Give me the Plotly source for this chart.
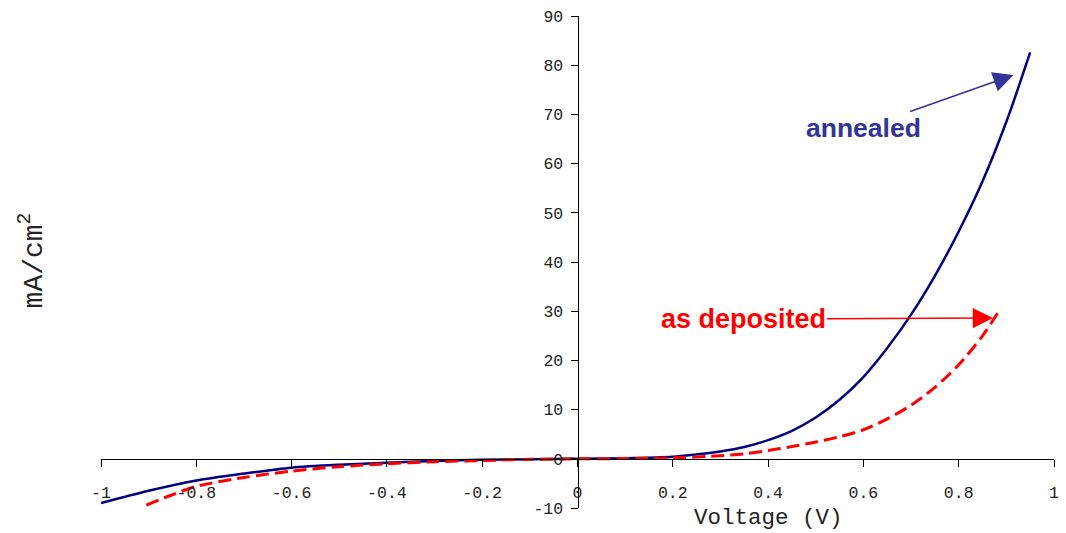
import plotly.graph_objects as go

# Annealed curve (solid navy)
annealed_v = [-1.0, -0.9, -0.8, -0.7, -0.6, -0.5, -0.4, -0.3, -0.2, -0.1, 0.0, 0.1, 0.2, 0.25,
              0.3, 0.35, 0.4, 0.45, 0.5, 0.55, 0.6, 0.65, 0.7, 0.75, 0.8, 0.85, 0.9, 0.95]
annealed_j = [-9.0, -6.5, -4.4, -3.0, -1.8, -1.2, -0.8, -0.45, -0.2, -0.1, 0.0, 0.1, 0.4, 0.9,
              1.5, 2.4, 3.8, 5.7, 8.4, 12.0, 16.6, 22.5, 29.3, 37.2, 46.2, 56.4, 68.5, 82.6]

# As-deposited curve (dashed red)
deposited_v = [-0.905, -0.85, -0.8, -0.7, -0.6, -0.5, -0.4, -0.3, -0.2, -0.1, 0.0, 0.1, 0.2,
               0.28, 0.35, 0.4, 0.45, 0.5, 0.55, 0.6, 0.65, 0.7, 0.75, 0.8, 0.85, 0.887]
deposited_j = [-9.4, -7.3, -5.6, -3.8, -2.5, -1.6, -1.0, -0.6, -0.35, -0.1, 0.0, 0.05, 0.2,
               0.5, 1.0, 1.7, 2.5, 3.4, 4.5, 5.9, 8.1, 10.9, 14.5, 19.1, 25.0, 30.4]

x_ticks = [-1, -0.8, -0.6, -0.4, -0.2, 0, 0.2, 0.4, 0.6, 0.8, 1]
x_ticklabels = ["-1", "-0.8", "-0.6", "-0.4", "-0.2", "0", "0.2", "0.4", "0.6", "0.8", "1"]
y_ticks = [-10, 0, 10, 20, 30, 40, 50, 60, 70, 80, 90]
y_ticklabels = ["-10", "0", "10", "20", "30", "40", "50", "60", "70", "80", "90"]

mono = "Liberation Mono, Courier New, monospace"
sans = "Liberation Sans, Arial, sans-serif"

fig = go.Figure()
fig.add_trace(go.Scatter(x=annealed_v, y=annealed_j, mode="lines", name="annealed",
                         line=dict(color="#000080", width=2.5, shape="spline", smoothing=0.8)))
fig.add_trace(go.Scatter(x=deposited_v, y=deposited_j, mode="lines", name="as deposited",
                         line=dict(color="#FF0000", width=3, dash="13px,6px", shape="spline", smoothing=0.8)))

fig.update_layout(
    width=1066, height=533,
    margin=dict(l=101, r=7, t=16, b=25),
    paper_bgcolor="white", plot_bgcolor="white",
    showlegend=False,
    xaxis=dict(range=[-1, 1], anchor="free", position=0.1,
               showline=True, linecolor="black", linewidth=1,
               ticks="outside", ticklen=7, tickcolor="black", tickwidth=1,
               tickvals=x_ticks, ticktext=x_ticklabels, ticklabelstandoff=11,
               tickfont=dict(family=mono, size=16.5, color="#222"),
               showgrid=False, zeroline=False),
    yaxis=dict(range=[-10, 90], anchor="free", position=0.5,
               showline=True, linecolor="black", linewidth=1,
               ticks="outside", ticklen=7, tickcolor="black", tickwidth=1,
               tickvals=y_ticks, ticktext=y_ticklabels, ticklabelstandoff=4,
               tickfont=dict(family=mono, size=16.5, color="#222"),
               showgrid=False, zeroline=False),
    annotations=[
        dict(text="Voltage (V)", xref="paper", yref="paper", x=0.7, y=-0.02,
             xanchor="center", yanchor="middle", showarrow=False,
             font=dict(family=mono, size=22.5, color="#222")),
        dict(text="mA/cm<sup>2</sup>", xref="paper", yref="paper", x=-0.072, y=0.504,
             xanchor="center", yanchor="middle", showarrow=False, textangle=-90,
             font=dict(family=mono, size=28, color="#222")),
        dict(text="<b>annealed</b>", x=0.915, y=78.0, xref="x", yref="y",
             ax=-150, ay=53, axref="pixel", ayref="pixel",
             showarrow=True, arrowhead=2, arrowsize=2.7, arrowwidth=1.5,
             arrowcolor="#333399", font=dict(family=sans, size=26.5, color="#333399")),
        dict(text="<b>as deposited</b>", x=0.872, y=28.6, xref="x", yref="y",
             ax=-250, ay=1, axref="pixel", ayref="pixel",
             showarrow=True, arrowhead=2, arrowsize=2.7, arrowwidth=1.5,
             arrowcolor="#FF0000", font=dict(family=sans, size=27, color="#FF0000")),
    ],
)

fig.write_html("out.html")
